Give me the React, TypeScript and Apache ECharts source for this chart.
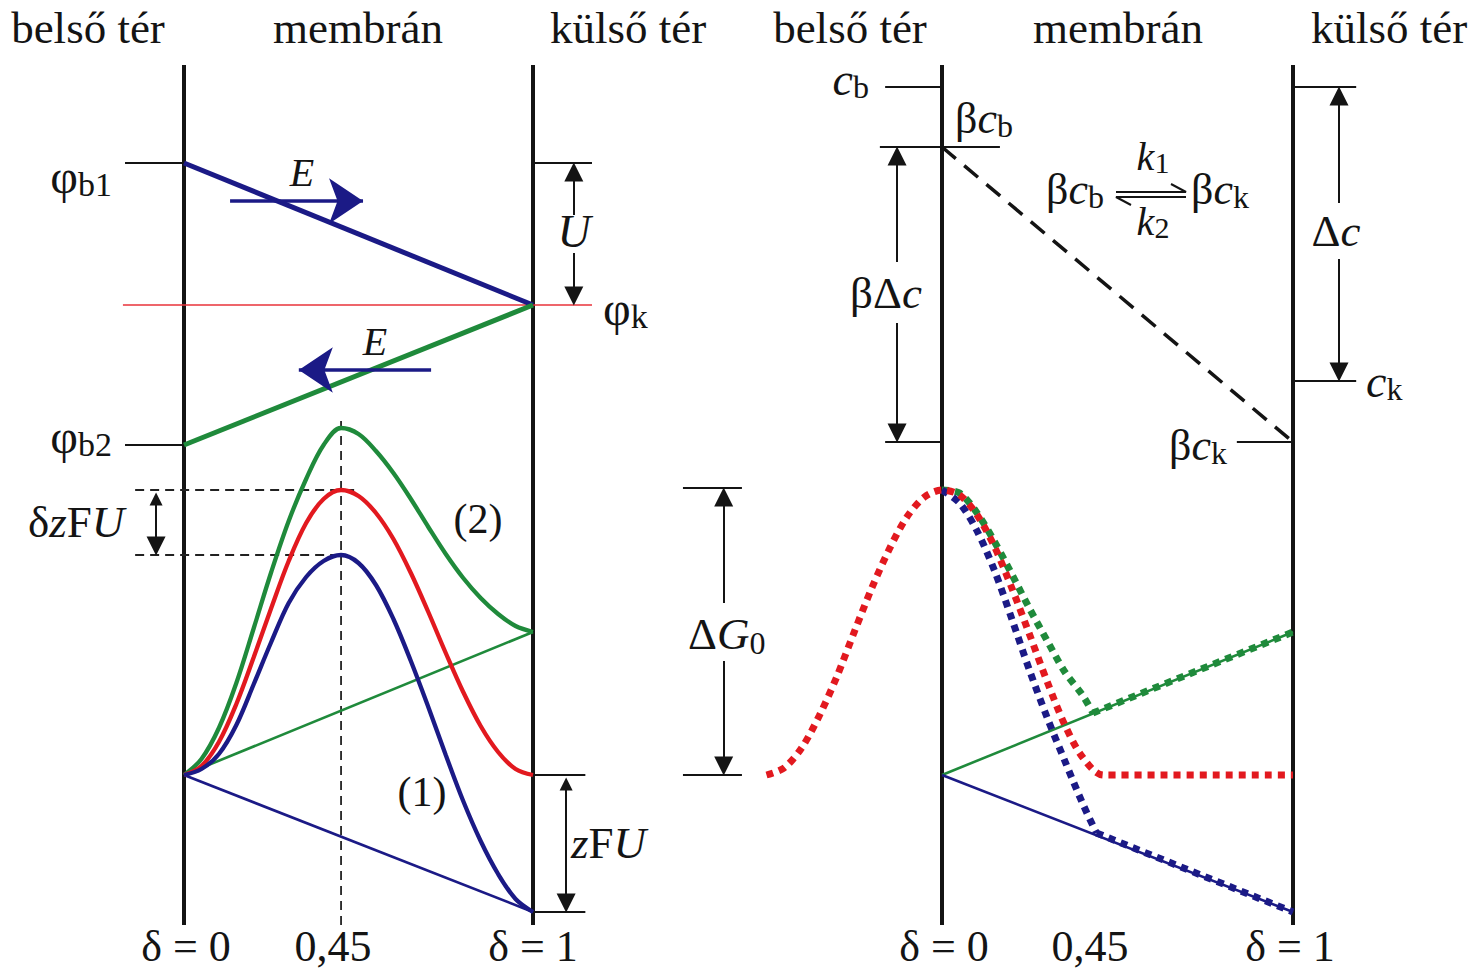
import React, { useEffect, useRef } from "react";
import * as echarts from "echarts";

// ---------------- DATA ----------------
// δ = relative position inside the membrane (0 = inner surface, 1 = outer surface)
const boundaryDelta = [0, 1];
const boundarySpan = [-150, 710]; // energy span (a.u.) drawn for the membrane surfaces
const peakDelta = 0.45;

// Left panel – electric potentials (a.u., baseline of the energy curves = 0)
const phiB1 = 612;
const phiK = 470;
const phiB2 = 330;
const peakU0 = 285; // barrier top, U = 0 (red)
const peakCase1 = 220; // barrier top, case (1) (blue)
const zfuLow = -137;
const fieldEnd2 = 143; // linear potential term, case (2), at δ = 1
const fieldEnd1 = -137; // linear potential term, case (1), at δ = 1

const deltaSamples = [0, 0.05, 0.1, 0.15, 0.2, 0.25, 0.3, 0.35, 0.4, 0.45, 0.5, 0.55, 0.6, 0.65, 0.7, 0.75, 0.8, 0.85, 0.9, 0.95, 1];
const energyU0 = [0, 9, 33, 71, 118, 167, 214, 252, 276, 285, 279, 262, 236, 202, 163, 122, 83, 49, 23, 6, 0];
const energyCase2 = [0, 16, 47, 92, 147, 203, 254, 296, 330, 347, 341, 324, 302, 276, 248, 221, 197, 177, 161, 149, 143];
const energyCase1 = [0, 6, 21, 50, 91, 133, 172, 198, 214, 220, 212, 190, 156, 114, 68, 20, -26, -66, -99, -124, -137];

// Right panel – concentrations
const cB = 688;
const betaCB = 628;
const cK = 394;
const betaCK = 333;
const deltaG0Top = 287;

const riseDelta = [-0.5, -0.45, -0.4, -0.35, -0.3, -0.25, -0.2, -0.15, -0.1, -0.05, 0];
const riseU0 = [0, 7, 27, 59, 98, 143, 187, 226, 258, 278, 285];
const fallDelta = [0, 0.05, 0.1, 0.15, 0.2, 0.25, 0.3, 0.35, 0.4];
const fallU0 = [285, 280, 260, 228, 186, 140, 93, 50, 18];
const fallCase2 = [285, 282, 262, 233, 200, 166, 134, 103, 80];
const fallCase1 = [285, 272, 244, 204, 155, 104, 57, 14, -28];
const joinU0 = [0.46, 0];
const joinCase2 = [0.43, 62];
const joinCase1 = [0.44, -58];

// ---------------- STYLE / LAYOUT ----------------
const BLUE = "#1b1a86";
const GREEN = "#1f8a3b";
const RED = "#e2191f";
const INK = "#141414";
const FONT = '"Liberation Serif", "Times New Roman", serif';

const LX0 = 184, LSC = 349; // left panel: pixel x of δ=0, pixels per unit δ
const RX0 = 942, RSC = 351; // right panel
const Y0 = 775; // pixel y of energy 0
const leftMin = -0.5, leftMax = 1.35, rightMin = -0.8, rightMax = 1.5;
const yMin = -185, yMax = 765;

let mctx: CanvasRenderingContext2D | null = null;
function measure(t: string, size: number, italic: boolean) {
  if (!mctx) mctx = document.createElement("canvas").getContext("2d");
  if (!mctx) return t.length * size * 0.5;
  mctx.font = `${italic ? "italic " : ""}${size}px ${FONT}`;
  return mctx.measureText(t).width;
}

type Part = { t: string; s?: number; i?: boolean; dy?: number; dx?: number };
function label(x: number, y: number, parts: Part[], align: "left" | "center" | "right" = "left", color = INK) {
  const ws = parts.map((p) => measure(p.t, p.s ?? 44, !!p.i) + (p.dx ?? 0));
  const total = ws.reduce((a, b) => a + b, 0);
  let cx = align === "left" ? x : align === "center" ? x - total / 2 : x - total;
  return parts.map((p, k) => {
    const el = {
      type: "text",
      x: cx + (p.dx ?? 0),
      y: y + (p.dy ?? 0),
      silent: true,
      style: {
        text: p.t,
        fontSize: p.s ?? 44,
        fontFamily: FONT,
        fontStyle: p.i ? "italic" : "normal",
        fill: color,
        align: "left",
        verticalAlign: "middle",
      },
    };
    cx += ws[k];
    return el;
  });
}

const seg = (g: number, data: number[][], color: string, width: number, opt: any = {}) => ({
  type: "line",
  xAxisIndex: g,
  yAxisIndex: g,
  data,
  symbol: "none",
  silent: true,
  smooth: opt.smooth ?? false,
  z: opt.z ?? 2,
  lineStyle: { color, width, type: opt.dash ?? "solid", cap: opt.cap ?? "butt" },
});

const arrow = (g: number, from: number[], to: number[], color: string, width: number, size: number[], both = false, head = "triangle") => ({
  type: "lines",
  coordinateSystem: "cartesian2d",
  xAxisIndex: g,
  yAxisIndex: g,
  silent: true,
  z: 4,
  symbol: [both ? head : "none", head],
  symbolSize: size,
  lineStyle: { color, width, opacity: 1, curveness: 0 },
  data: [{ coords: [from, to] }],
});

function buildOption() {
  const zip = (xs: number[], ys: number[]) => xs.map((x, k) => [x, ys[k]]);
  const H = [13, 19];

  const series: any[] = [];
  // ---------- left panel (grid 0) ----------
  boundaryDelta.forEach((d) => series.push(seg(0, [[d, boundarySpan[0]], [d, boundarySpan[1]]], INK, 4)));
  series.push(seg(0, [[-0.169, phiB1], [0, phiB1]], INK, 2));
  series.push(seg(0, [[1, phiB1], [1.169, phiB1]], INK, 2));
  series.push(seg(0, [[-0.169, phiB2], [0, phiB2]], INK, 2));
  series.push(seg(0, [[-0.175, phiK], [1.169, phiK]], "#e8323a", 1.6));
  series.push(seg(0, [[0, phiB1], [1, phiK]], BLUE, 5, { z: 3 }));
  series.push(seg(0, [[0, phiB2], [1, phiK]], GREEN, 5, { z: 3 }));
  series.push(seg(0, [[peakDelta, boundarySpan[0]], [peakDelta, 357]], "#222", 1.8, { dash: [9, 6] }));
  series.push(seg(0, [[-0.14, peakU0], [0.5, peakU0]], "#222", 1.8, { dash: [9, 6] }));
  series.push(seg(0, [[-0.14, peakCase1], [0.46, peakCase1]], "#222", 1.8, { dash: [9, 6] }));
  series.push(seg(0, [[1, 0], [1.15, 0]], INK, 2));
  series.push(seg(0, [[1, zfuLow], [1.15, zfuLow]], INK, 2));
  series.push(seg(0, [[0, 0], [1, fieldEnd2]], GREEN, 2.6, { z: 3 }));
  series.push(seg(0, [[0, 0], [1, fieldEnd1]], BLUE, 2.6, { z: 3 }));
  series.push(seg(0, zip(deltaSamples, energyCase2), GREEN, 4.3, { smooth: 0.35, z: 3 }));
  series.push(seg(0, zip(deltaSamples, energyU0), RED, 4.3, { smooth: 0.35, z: 3 }));
  series.push(seg(0, zip(deltaSamples, energyCase1), BLUE, 4.3, { smooth: 0.35, z: 3 }));
  // arrows left
  series.push(arrow(0, [1.117, 560], [1.117, phiB1 - 9], INK, 2, H));
  series.push(arrow(0, [1.117, 522], [1.117, phiK + 9], INK, 2, H));
  series.push(arrow(0, [-0.08, peakU0 - 9], [-0.08, peakCase1 + 9], INK, 2, H, true));
  series.push(arrow(0, [1.095, -9], [1.095, zfuLow + 9], INK, 2, H, true));
  series.push(arrow(0, [0.132, 574], [0.513, 574], BLUE, 3.5, [28, 34], false, "arrow"));
  series.push(arrow(0, [0.708, 405], [0.329, 405], BLUE, 3.5, [28, 34], false, "arrow"));

  // ---------- right panel (grid 1) ----------
  boundaryDelta.forEach((d) => series.push(seg(1, [[d, boundarySpan[0]], [d, boundarySpan[1]]], INK, 4)));
  series.push(seg(1, [[-0.162, cB], [0, cB]], INK, 2));
  series.push(seg(1, [[1, cB], [1.18, cB]], INK, 2));
  series.push(seg(1, [[-0.177, betaCB], [0.165, betaCB]], INK, 2));
  series.push(seg(1, [[-0.162, betaCK], [0, betaCK]], INK, 2));
  series.push(seg(1, [[0.84, betaCK], [1, betaCK]], INK, 2));
  series.push(seg(1, [[1, cK], [1.18, cK]], INK, 2));
  series.push(seg(1, [[0, betaCB], [1, betaCK]], INK, 3.5, { dash: [18, 11] }));
  series.push(seg(1, [[-0.738, deltaG0Top], [-0.57, deltaG0Top]], INK, 2));
  series.push(seg(1, [[-0.738, 0], [-0.57, 0]], INK, 2));
  series.push(seg(1, [[0, 0], [1, fieldEnd2]], GREEN, 2.6, { z: 3 }));
  series.push(seg(1, [[0, 0], [1, fieldEnd1]], BLUE, 2.6, { z: 3 }));
  const dots = [7, 6];
  series.push(seg(1, [...zip(fallDelta, fallCase2), joinCase2], GREEN, 7, { smooth: 0.3, dash: dots, z: 4 }));
  series.push(seg(1, [joinCase2, [1, fieldEnd2]], GREEN, 7, { dash: dots, z: 4 }));
  series.push(seg(1, [...zip(fallDelta, fallCase1), joinCase1], BLUE, 7, { smooth: 0.3, dash: dots, z: 4 }));
  series.push(seg(1, [joinCase1, [1, fieldEnd1]], BLUE, 7, { dash: dots, z: 4 }));
  series.push(seg(1, [...zip(riseDelta, riseU0), ...zip(fallDelta, fallU0).slice(1), joinU0, [1, 0]], RED, 7, { smooth: 0.3, dash: dots, z: 4 }));
  // arrows right
  series.push(arrow(1, [-0.128, 513], [-0.128, betaCB - 9], INK, 2, H));
  series.push(arrow(1, [-0.128, 452], [-0.128, betaCK + 9], INK, 2, H));
  series.push(arrow(1, [1.131, 572], [1.131, cB - 9], INK, 2, H));
  series.push(arrow(1, [1.131, 516], [1.131, cK + 9], INK, 2, H));
  series.push(arrow(1, [-0.622, 172], [-0.622, deltaG0Top - 9], INK, 2, H));
  series.push(arrow(1, [-0.622, 114], [-0.622, 9], INK, 2, H));

  // ---------- texts ----------
  const T = 45;
  const g: any[] = [];
  const push = (els: any[]) => g.push(...els);
  // headers
  push(label(88, 28, [{ t: "belső tér", s: T }], "center"));
  push(label(358, 28, [{ t: "membrán", s: T }], "center"));
  push(label(628, 28, [{ t: "külső tér", s: T }], "center"));
  push(label(850, 28, [{ t: "belső tér", s: T }], "center"));
  push(label(1118, 28, [{ t: "membrán", s: T }], "center"));
  push(label(1389, 28, [{ t: "külső tér", s: T }], "center"));
  // bottom
  const B = 946;
  push(label(186, B, [{ t: "δ = 0", s: 44 }], "center"));
  push(label(333, B, [{ t: "0,45", s: 44 }], "center"));
  push(label(533, B, [{ t: "δ = 1", s: 44 }], "center"));
  push(label(944, B, [{ t: "δ = 0", s: 44 }], "center"));
  push(label(1090, B, [{ t: "0,45", s: 44 }], "center"));
  push(label(1290, B, [{ t: "δ = 1", s: 44 }], "center"));
  // left labels
  push(label(112, 176, [{ t: "φ", s: 48 }, { t: "b1", s: 34, dy: 8 }], "right"));
  push(label(112, 436, [{ t: "φ", s: 48 }, { t: "b2", s: 34, dy: 8 }], "right"));
  push(label(603, 308, [{ t: "φ", s: 48 }, { t: "k", s: 34, dy: 8 }], "left"));
  push(label(302, 172, [{ t: "E", s: 40, i: true }], "center"));
  push(label(375, 341, [{ t: "E", s: 40, i: true }], "center"));
  push(label(574, 231, [{ t: "U", s: 46, i: true }], "center"));
  push(label(28, 522, [{ t: "δ", s: 45 }, { t: "z", s: 45, i: true }, { t: "F", s: 45 }, { t: "U", s: 45, i: true }], "left"));
  push(label(478, 519, [{ t: "(2)", s: 42 }], "center"));
  push(label(422, 792, [{ t: "(1)", s: 42 }], "center"));
  push(label(571, 843, [{ t: "z", s: 45, i: true }, { t: "F", s: 45 }, { t: "U", s: 45, i: true }], "left"));
  // right labels
  push(label(869, 79, [{ t: "c", s: 46, i: true }, { t: "b", s: 32, dy: 8 }], "right"));
  push(label(955, 118, [{ t: "β", s: 44 }, { t: "c", s: 44, i: true }, { t: "b", s: 32, dy: 8 }], "left"));
  push(label(1046, 189, [{ t: "β", s: 44 }, { t: "c", s: 44, i: true }, { t: "b", s: 32, dy: 8 }], "left"));
  push(label(1191, 189, [{ t: "β", s: 44 }, { t: "c", s: 44, i: true }, { t: "k", s: 32, dy: 8 }], "left"));
  push(label(1153, 156, [{ t: "k", s: 40, i: true }, { t: "1", s: 30, dy: 6 }], "center"));
  push(label(1153, 221, [{ t: "k", s: 40, i: true }, { t: "2", s: 30, dy: 6 }], "center"));
  push(label(1336, 231, [{ t: "Δ", s: 45 }, { t: "c", s: 45, i: true }], "center"));
  push(label(886, 293, [{ t: "β", s: 45 }, { t: "Δ", s: 45 }, { t: "c", s: 45, i: true }], "center"));
  push(label(1366, 381, [{ t: "c", s: 46, i: true }, { t: "k", s: 32, dy: 8 }], "left"));
  push(label(1227, 445, [{ t: "β", s: 44 }, { t: "c", s: 44, i: true }, { t: "k", s: 32, dy: 8 }], "right"));
  push(label(688, 634, [{ t: "Δ", s: 45 }, { t: "G", s: 45, i: true }, { t: "0", s: 32, dy: 9 }], "left"));
  // equilibrium harpoons
  g.push({ type: "polyline", silent: true, shape: { points: [[1116, 192], [1186, 192], [1171, 184]] }, style: { stroke: INK, lineWidth: 2, fill: null } });
  g.push({ type: "polyline", silent: true, shape: { points: [[1131, 205], [1116, 197], [1186, 197]] }, style: { stroke: INK, lineWidth: 2, fill: null } });

  return {
    animation: false,
    backgroundColor: "#ffffff",
    grid: [
      { left: LX0 + LSC * leftMin, width: LSC * (leftMax - leftMin), top: Y0 - yMax, height: yMax - yMin },
      { left: RX0 + RSC * rightMin, width: RSC * (rightMax - rightMin), top: Y0 - yMax, height: yMax - yMin },
    ],
    xAxis: [
      { gridIndex: 0, type: "value", min: leftMin, max: leftMax, show: false },
      { gridIndex: 1, type: "value", min: rightMin, max: rightMax, show: false },
    ],
    yAxis: [
      { gridIndex: 0, type: "value", min: yMin, max: yMax, show: false },
      { gridIndex: 1, type: "value", min: yMin, max: yMax, show: false },
    ],
    series,
    graphic: g,
  };
}

export default function App() {
  const ref = useRef<HTMLDivElement>(null);
  useEffect(() => {
    if (!ref.current) return;
    const chart = echarts.init(ref.current, null, { renderer: "svg" });
    chart.setOption(buildOption() as any);
    return () => chart.dispose();
  }, []);
  return (
    <div
      ref={ref}
      style={{ position: "fixed", left: 0, top: 0, width: 1474, height: 970, background: "#fff" }}
    />
  );
}
